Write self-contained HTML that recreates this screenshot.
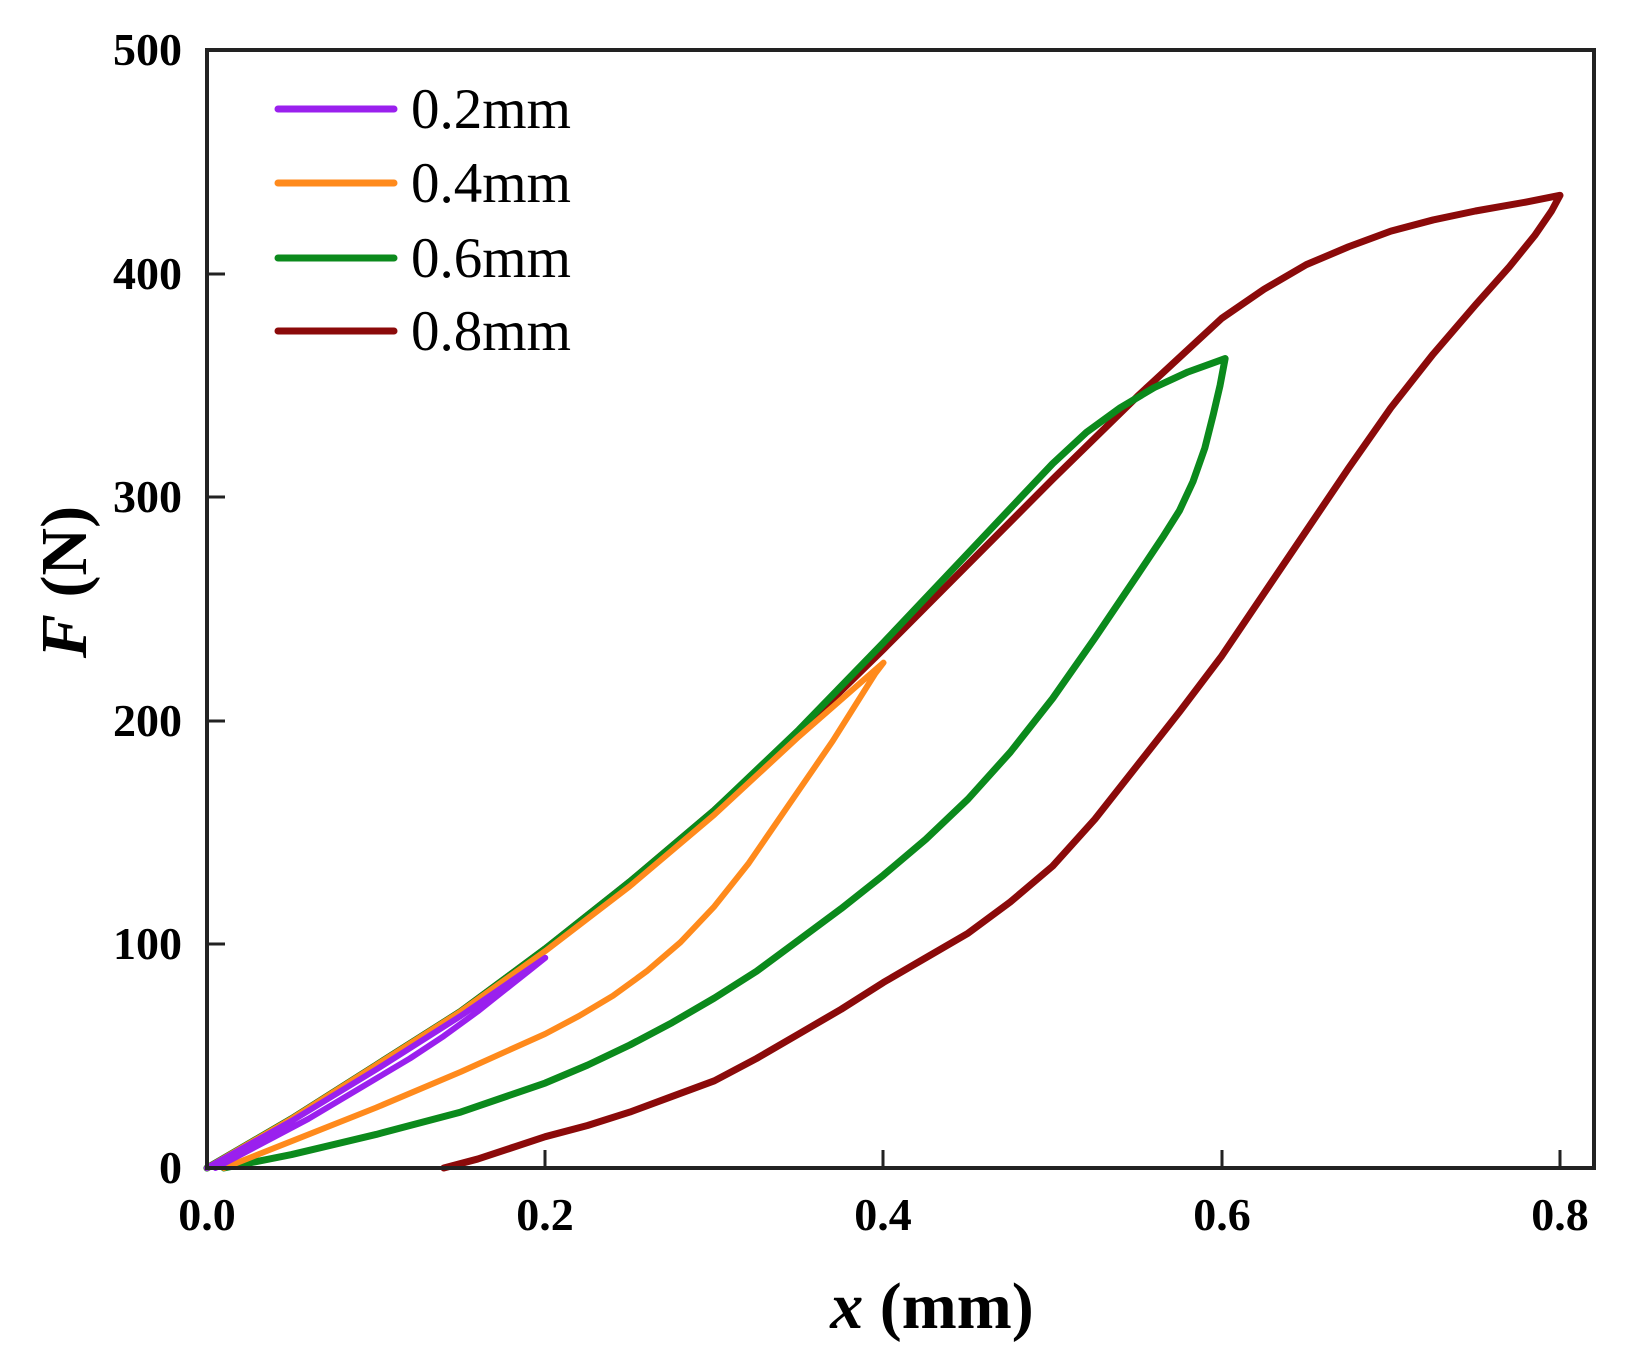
<!DOCTYPE html>
<html><head><style>body{margin:0;background:#fff}svg{display:block}</style></head><body>
<svg width="1627" height="1368" viewBox="0 0 1627 1368" xmlns="http://www.w3.org/2000/svg" font-family="Liberation Serif, serif">
<rect width="1627" height="1368" fill="#fff"/>
<g transform="translate(207,1168) scale(1691.25,-2.236)" fill="none" stroke-linejoin="round" stroke-linecap="round">
<polyline vector-effect="non-scaling-stroke" stroke="#8b0a0a" stroke-width="7" points="0,0 0.05,22 0.1,46 0.15,70 0.2,98 0.25,128 0.3,160 0.35,195 0.4,232 0.45,270 0.5,308 0.55,345 0.6,380 0.625,393 0.65,404 0.675,412 0.7,419 0.725,424 0.75,428 0.78,432 0.8,435 0.795,428 0.785,417 0.77,403 0.75,386 0.725,364 0.7,340 0.675,313 0.65,285 0.625,257 0.6,229 0.575,204 0.55,180 0.525,156 0.5,135 0.475,119 0.45,105 0.425,94 0.4,83 0.375,71 0.35,60 0.325,49 0.3,39 0.275,32 0.25,25 0.225,19 0.2,14 0.18,9 0.16,4 0.14,0"/>
<polyline vector-effect="non-scaling-stroke" stroke="#0b8a1c" stroke-width="7" points="0,0 0.05,22 0.1,46 0.15,70 0.2,98 0.25,128 0.3,160 0.35,196 0.4,235 0.45,275 0.5,315 0.52,329 0.54,340 0.56,349 0.58,356 0.602,362 0.599,350 0.595,337 0.59,322 0.583,307 0.575,294 0.565,282 0.55,265 0.525,237 0.5,210 0.475,186 0.45,165 0.425,147 0.4,131 0.375,116 0.35,102 0.325,88 0.3,76 0.275,65 0.25,55 0.225,46 0.2,38 0.15,25 0.1,15 0.05,6 0.01,0"/>
<polyline vector-effect="non-scaling-stroke" stroke="#ff8a1c" stroke-width="6" points="0,0 0.05,22 0.1,46 0.15,70 0.2,97 0.25,126 0.3,158 0.35,193 0.4,226 0.395,221 0.39,215 0.38,203 0.37,191 0.36,180 0.34,158 0.32,136 0.3,117 0.28,101 0.26,88 0.24,77 0.22,68 0.2,60 0.15,43 0.1,27 0.05,12 0.01,0"/>
<polyline vector-effect="non-scaling-stroke" stroke="#9a20ee" stroke-width="6" points="0,0 0.05,21 0.1,44 0.15,68 0.2,94 0.195,91 0.19,88 0.18,82 0.17,76 0.16,70 0.14,59 0.12,49 0.1,40 0.08,31 0.06,22 0.04,14 0.02,6 0.005,0"/>
</g>
<rect x="207" y="50" width="1387" height="1118" fill="none" stroke="#222" stroke-width="4"/>
<g stroke="#222" stroke-width="3">
<line x1="545" y1="1168" x2="545" y2="1150"/><line x1="883" y1="1168" x2="883" y2="1150"/><line x1="1222" y1="1168" x2="1222" y2="1150"/><line x1="1560" y1="1168" x2="1560" y2="1150"/>
<line x1="207" y1="944" x2="225" y2="944"/><line x1="207" y1="721" x2="225" y2="721"/><line x1="207" y1="497" x2="225" y2="497"/><line x1="207" y1="274" x2="225" y2="274"/>
</g>
<g font-weight="bold" font-size="46" fill="#000">
<g text-anchor="end">
<text x="182" y="1183">0</text><text x="182" y="959">100</text><text x="182" y="736">200</text><text x="182" y="512">300</text><text x="182" y="289">400</text><text x="182" y="65">500</text>
</g>
<g text-anchor="middle">
<text x="207" y="1230">0.0</text><text x="545" y="1230">0.2</text><text x="883" y="1230">0.4</text><text x="1222" y="1230">0.6</text><text x="1560" y="1230">0.8</text>
</g>
</g>
<text x="932" y="1328" text-anchor="middle" font-size="66" font-weight="bold"><tspan font-style="italic">x</tspan> (mm)</text>
<text transform="translate(86,582) rotate(-90)" text-anchor="middle" font-size="66" font-weight="bold"><tspan font-style="italic">F</tspan> (N)</text>
<g stroke-width="7" stroke-linecap="round">
<line x1="278" y1="109" x2="394" y2="109" stroke="#9a20ee"/>
<line x1="278" y1="183" x2="394" y2="183" stroke="#ff8a1c"/>
<line x1="278" y1="258" x2="394" y2="258" stroke="#0b8a1c"/>
<line x1="278" y1="331" x2="394" y2="331" stroke="#8b0a0a"/>
</g>
<g font-size="57" fill="#000">
<text x="411" y="128">0.2mm</text><text x="411" y="202">0.4mm</text><text x="411" y="277">0.6mm</text><text x="411" y="350">0.8mm</text>
</g>
</svg>
</body></html>
